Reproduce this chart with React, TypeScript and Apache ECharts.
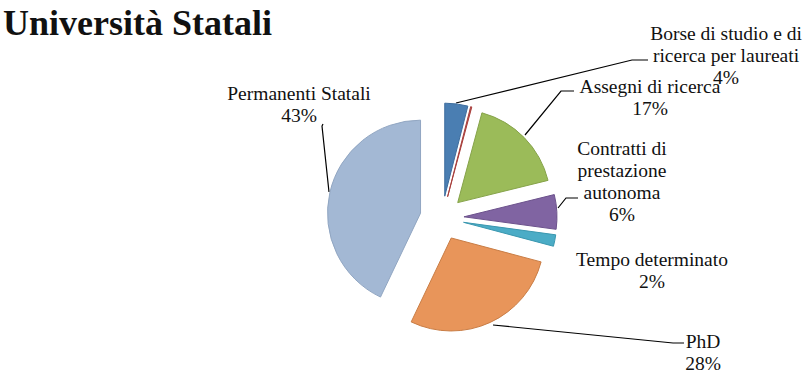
import React, { useEffect, useRef } from "react";
import * as echarts from "echarts";

const TITLE = "Università Statali";
const categories = [
  "Borse di studio e di\nricerca per laureati",
  "Altro",
  "Assegni di ricerca",
  "Contratti di\nprestazione\nautonoma",
  "Tempo determinato",
  "PhD",
  "Permanenti Statali",
];
const values = [4, 0.2, 17, 6, 2, 28, 43];
const colors = ["#4A7EB2", "#C0504D", "#9BBB59", "#8064A2", "#4BACC6", "#E8955A", "#A3B8D4"];
const borders = ["#3D6D9E", "#A8403D", "#86A34A", "#6C528C", "#3A97AF", "#C97D45", "#91A6C2"];

// label placement (styling only): text centre and leader line route
const labelPlacement: { idx: number; x: number; y: number; line?: number[][] }[] = [
  { idx: 0, x: 726, y: 55, line: [[456, 103], [632, 60], [648, 60]] },
  { idx: 2, x: 650, y: 97, line: [[525, 135], [561, 91], [574, 91]] },
  { idx: 3, x: 622, y: 181, line: [[558, 208], [566, 198], [578, 198]] },
  { idx: 4, x: 652, y: 270 },
  { idx: 5, x: 703, y: 352, line: [[493, 325], [673, 343], [684, 343]] },
  { idx: 6, x: 299, y: 104, line: [[329, 192], [322, 126], [323, 124]] },
];

export default function App() {
  const ref = useRef<HTMLDivElement>(null);
  useEffect(() => {
    if (!ref.current) return;
    const chart = echarts.init(ref.current, null, { renderer: "svg" });
    const total = values.reduce((a, b) => a + b, 0);
    const graphics: any[] = [];
    labelPlacement.forEach((pl) => {
      if (pl.line) {
        graphics.push({
          type: "polyline",
          shape: { points: pl.line },
          style: { stroke: "#000", lineWidth: 1.2, fill: null },
          silent: true,
        });
      }
      graphics.push({
        type: "text",
        x: pl.x,
        y: pl.y,
        silent: true,
        style: {
          text: categories[pl.idx] + "\n" + Math.round((values[pl.idx] / total) * 100) + "%",
          fontFamily: "Liberation Serif",
          fontSize: 19.5,
          lineHeight: 22,
          fill: "#111",
          align: "center",
          verticalAlign: "middle",
        },
      });
    });
    chart.setOption({
      animation: false,
      backgroundColor: "#ffffff",
      title: {
        text: TITLE,
        left: -2,
        top: 0,
        textStyle: {
          fontFamily: "Liberation Serif",
          fontWeight: "bold",
          fontSize: 36,
          color: "#111",
        },
      },
      graphic: graphics,
      series: [
        {
          type: "pie",
          center: [442, 218],
          radius: 93,
          startAngle: 90,
          clockwise: true,
          selectedMode: "multiple",
          selectedOffset: 22,
          emphasis: { disabled: true },
          label: { show: false },
          labelLine: { show: false },
          data: categories.map((name, i) => ({
            name,
            value: values[i],
            selected: true,
            itemStyle: { color: colors[i], borderColor: borders[i], borderWidth: 1 },
          })),
        },
      ],
    });
    return () => chart.dispose();
  }, []);
  return (
    <div
      ref={ref}
      style={{ position: "fixed", left: 0, top: 0, width: 807, height: 377 }}
    />
  );
}
